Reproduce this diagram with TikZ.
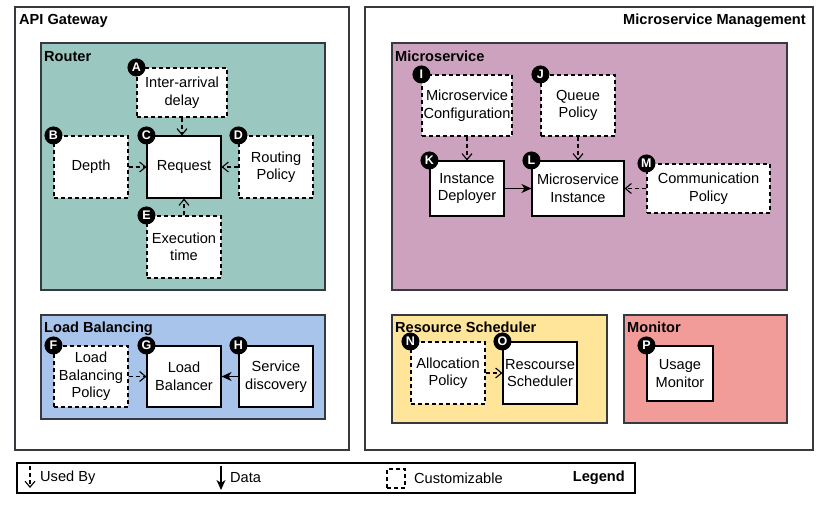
\documentclass[tikz,border=0pt]{standalone}
\usepackage{fontspec}
\setmainfont{Liberation Sans}
\usetikzlibrary{arrows.meta}
\definecolor{routerc}{HTML}{9AC7BF}
\definecolor{balancec}{HTML}{A9C4EB}
\definecolor{servicec}{HTML}{CDA2BE}
\definecolor{schedc}{HTML}{FFE599}
\definecolor{monitorc}{HTML}{F19C99}
\definecolor{framec}{HTML}{36393D}

\begin{document}
\begin{tikzpicture}[x=1pt, y=-1pt,
  every node/.style={font=\fontsize{14.6}{17.5}\selectfont},
  box/.style={draw=black, fill=white, line width=1.1pt, align=center, inner sep=0pt},
  custbox/.style={box, dash pattern=on 4pt off 3pt},
  group/.style={draw=framec, line width=1.3pt},
  title/.style={anchor=base west, inner sep=0pt, font=\fontsize{14.6}{17.5}\selectfont\bfseries},
  badge/.style={circle, fill=black, text=white, inner sep=0pt, minimum size=18pt,
    font=\fontsize{12.5}{12.5}\selectfont\bfseries},
  usedby/.style={-{Straight Barb[length=6pt,width=10pt,line width=1.1pt]}, line width=1.1pt, dash pattern=on 4pt off 3pt},
  dataflow/.style={-{Stealth[length=10pt,width=9pt,inset=3pt]}, line width=1.3pt}]
\useasboundingbox (0,0) rectangle (817,506);

% outer frames
\draw[group] (15,7) rectangle (349,450);
\draw[group] (365,7) rectangle (813,450);
\node[title] (gwtitle) at (19,24) {API Gateway};
\node[title, anchor=base east] (mgmttitle) at (806,24) {Microservice Management};

% groups
\draw[group, fill=routerc] (41,43) rectangle (325,290);
\draw[group, fill=balancec] (41,315) rectangle (325,419);
\draw[group, fill=servicec] (392,43) rectangle (787,290);
\draw[group, fill=schedc] (392,315) rectangle (607,423);
\draw[group, fill=monitorc] (624,315) rectangle (787,423);
\node[title] (routertitle) at (44,61) {Router};
\node[title] (lbtitle) at (44,332) {Load Balancing};
\node[title] (mstitle) at (395,61) {Microservice};
\node[title] (rstitle) at (395,332) {Resource Scheduler};
\node[title] (montitle) at (627,332) {Monitor};

% router
\node[custbox, minimum width=90pt, minimum height=49pt] (A) at (182,92.5) {Inter-arrival\\delay};
\node[custbox, minimum width=74pt, minimum height=62pt] (B) at (91,167) {Depth};
\node[box, minimum width=74pt, minimum height=62pt] (C) at (184,167) {Request};
\node[custbox, minimum width=74pt, minimum height=62pt] (D) at (276,167) {Routing\\Policy};
\node[custbox, minimum width=74pt, minimum height=62pt] (E) at (184,247) {Execution\\time};

% load balancing
\node[custbox, minimum width=74pt, minimum height=61pt] (F) at (91,376.5) {Load\\Balancing\\Policy};
\node[box, minimum width=74pt, minimum height=61pt] (G) at (184,376.5) {Load\\Balancer};
\node[box, minimum width=74pt, minimum height=61pt] (H) at (276,376.5) {Service\\discovery};

% microservice
\node[custbox, minimum width=90pt, minimum height=61pt] (I) at (467,105.5) {Microservice\\Configuration};
\node[custbox, minimum width=74pt, minimum height=61pt] (J) at (578,105.5) {Queue\\Policy};
\node[box, minimum width=74pt, minimum height=55pt] (K) at (467,188.5) {Instance\\Deployer};
\node[box, minimum width=92pt, minimum height=55pt] (L) at (578,188.5) {Microservice\\Instance};
\node[custbox, minimum width=123pt, minimum height=49pt] (M) at (708.5,188.5) {Communication\\Policy};

% resource scheduler and monitor
\node[custbox, minimum width=74pt, minimum height=62pt] (N) at (448,373) {Allocation\\Policy};
\node[box, minimum width=74pt, minimum height=62pt] (O) at (540,373) {Rescourse\\Scheduler};
\node[box, minimum width=66pt, minimum height=55pt] (P) at (680,373.5) {Usage\\Monitor};

% badges
\foreach \n in {A,B,C,D,E,F,G,H,I,J,K,L,M,N,O,P}
  \node[badge] (badge\n) at (\n.north west) {\n};

% connectors
\draw[usedby] (A.south) -- (A.south |- C.north);
\draw[usedby] (B) -- (C);
\draw[usedby] (D) -- (C);
\draw[usedby] (E.north) -- (E.north |- C.south);
\draw[usedby] (F) -- (G);
\draw[dataflow] (H) -- (G);
\draw[usedby] (I) -- (K);
\draw[usedby] (J) -- (L);
\draw[dataflow] (K) -- (L);
\draw[usedby] (M) -- (L);
\draw[usedby] (N) -- (O);

% legend
\draw[line width=1.3pt, draw=black] (17,463) rectangle (635,493);
\coordinate (ub1) at (30,466);
\coordinate (ub2) at (30,488);
\coordinate (df1) at (221,466);
\coordinate (df2) at (221,490);
\draw[usedby] (ub1) -- (ub2);
\draw[dataflow] (df1) -- (df2);
\node[anchor=west, inner sep=0pt] (ubtext) at (40,478) {Used By};
\node[anchor=west, inner sep=0pt] (dftext) at (230,478) {Data};
\node[custbox, minimum width=18pt, minimum height=19pt] (cbox) at (396,478.5) {};
\node[anchor=west, inner sep=0pt] (cbtext) at (414,478) {Customizable};
\node[anchor=east, inner sep=0pt, font=\fontsize{14.6}{17.5}\selectfont\bfseries] (legtitle) at (625,478) {Legend};
\end{tikzpicture}
\end{document}
